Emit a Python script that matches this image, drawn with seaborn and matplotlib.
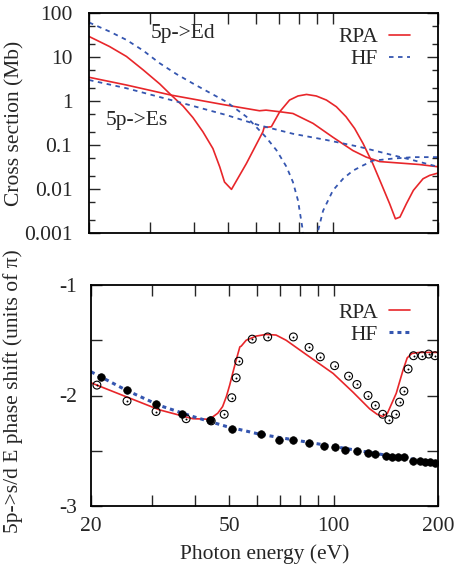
import numpy as np
import pandas as pd
import matplotlib
matplotlib.use("Agg")
import matplotlib.pyplot as plt
import seaborn as sns
from matplotlib.ticker import FixedLocator, NullFormatter, FixedFormatter, NullLocator

sns.set_style("ticks")
plt.rcParams['font.family'] = ['Liberation Serif', 'DejaVu Serif']

RED = '#e8262a'
BLUE = '#3556b0'

# ---------------- Top panel: cross sections ----------------
rpa_d_x = [20, 22.9, 25.6, 28.6, 31.9, 34.4, 37.2, 39.7, 42.4, 45.3, 47.4, 48.9, 51.2, 56.5, 63.0, 63.5, 66.6, 70.4,
           75.1, 79.4, 84.0, 89.6, 95.8, 102.3, 109, 115.4, 122, 130, 137.6, 145.4, 151, 155.6, 162.3, 170, 181.2, 189.3, 200]
rpa_d_y = [29.3, 17.3, 10.3, 5.08, 2.44, 1.36, 0.766, 0.42, 0.2, 0.083, 0.0316, 0.0144, 0.0098, 0.038, 0.2, 0.25, 0.26, 0.57,
           1.05, 1.30, 1.41, 1.30, 1.05, 0.74, 0.44, 0.237, 0.108, 0.038, 0.0131, 0.0046, 0.0021, 0.0023, 0.0046, 0.0093, 0.0171, 0.0204, 0.023]

rpa_s_x = [20, 25.6, 34.4, 49.3, 61.6, 64.3, 70.4, 76.8, 87.7, 100, 114, 124.6, 136.1, 148, 177, 200]
rpa_s_y = [3.46, 2.31, 1.36, 0.81, 0.60, 0.62, 0.57, 0.52, 0.31, 0.15, 0.075, 0.053, 0.042, 0.040, 0.036, 0.032]

hf_d_x = [20, 22.9, 25.6, 28.6, 31.9, 35.6, 39.7, 44.3, 49.5, 56.5, 64.3, 68.9, 73.6, 76.8, 79.4, 81.7, 86.5,
          90.6, 93.7, 100, 106.9, 114, 122, 130, 148, 170, 200]
hf_d_y = [61, 38, 24.5, 14, 7.2, 4.1, 2.5, 1.55, 0.96, 0.44, 0.15, 0.076, 0.032, 0.0144, 0.0055, 0.00134, 0.00001,
          0.0011, 0.0032, 0.0093, 0.0171, 0.026, 0.0344, 0.044, 0.049, 0.053, 0.053]

hf_s_x = [20, 25.6, 34.4, 49.5, 61.6, 76.8, 95.8, 119, 148, 170, 200]
hf_s_y = [3.0, 1.95, 1.05, 0.48, 0.28, 0.18, 0.13, 0.091, 0.059, 0.045, 0.032]

# ---------------- Bottom panel: phase shifts ----------------
rpa_ph_x = [20, 25.2, 31.5, 39.3, 43.9, 46.4, 47.9, 49.1, 50.2, 51.2, 52.4, 53.7, 54.2, 56.0, 59.9, 64, 68.3, 73, 83.5,
            99.7, 113.8, 127, 133.5, 138.6, 143, 151.6, 158.6, 163, 168, 177, 200]
rpa_ph_y = [-1.885, -2.01, -2.13, -2.21, -2.215, -2.16, -2.10, -2.01, -1.906, -1.80, -1.68, -1.56, -1.553, -1.50, -1.462,
            -1.447, -1.453, -1.50, -1.63, -1.80, -1.97, -2.12, -2.17, -2.19, -2.16, -1.98, -1.77, -1.66, -1.62, -1.61, -1.61]

hf_ph_x = [20, 25.2, 31.5, 39.3, 49.1, 61.2, 76.3, 95.2, 118.7, 148, 200]
hf_ph_y = [-1.785, -1.95, -2.09, -2.19, -2.28, -2.35, -2.40, -2.45, -2.50, -2.55, -2.61]

filled_x = [21.4, 25.4, 30.8, 36.6, 44.0, 50.9, 61.6, 69.6, 76.3, 85, 93.8, 101, 107.9, 117, 126, 132, 142, 147.8, 153.8,
            159.8, 169, 177, 183.8, 190, 196]
filled_y = [-1.83, -1.946, -2.08, -2.17, -2.22, -2.30, -2.35, -2.40, -2.40, -2.43, -2.46, -2.47, -2.49, -2.50, -2.52,
            -2.53, -2.55, -2.555, -2.555, -2.555, -2.59, -2.595, -2.60, -2.60, -2.61]

open_x = [20.8, 25.4, 30.8, 37.6, 44.4, 48.4, 50.9, 52.4, 53.3, 58.3, 64.6, 76.6, 85, 91.6, 100.7, 110.5, 116.8, 125.7,
          132, 138.6, 144.4, 150.9, 155, 159.5, 164, 170, 180, 188, 196]
open_y = [-1.906, -2.05, -2.145, -2.21, -2.23, -2.17, -2.02, -1.84, -1.69, -1.49, -1.47, -1.47, -1.565, -1.65, -1.73,
          -1.825, -1.90, -2.00, -2.09, -2.17, -2.22, -2.17, -2.06, -1.96, -1.76, -1.64, -1.64, -1.625, -1.64]

FS = 15.5

fig = plt.figure(figsize=(4.54, 5.76), dpi=100)
ax1 = fig.add_axes([89/454, 1-233/576, (438-89)/454, (233-13)/576])
ax2 = fig.add_axes([91/454, 1-506/576, (438-91)/454, (506-285)/576])

# top panel
sns.lineplot(x=rpa_d_x, y=rpa_d_y, ax=ax1, color=RED, lw=1.2, sort=False, label='RPA')
sns.lineplot(x=rpa_s_x, y=rpa_s_y, ax=ax1, color=RED, lw=1.2, sort=False)
sns.lineplot(x=hf_d_x, y=hf_d_y, ax=ax1, color=BLUE, lw=1.3, sort=False, label='HF')
sns.lineplot(x=hf_s_x, y=hf_s_y, ax=ax1, color=BLUE, lw=1.3, sort=False)
for ln in ax1.get_lines()[2:4]:
    ln.set_dashes([2.5, 2.5])

ax1.set_xscale('log')
ax1.set_yscale('log')
ax1.set_xlim(20, 200)
ax1.set_ylim(0.001, 100)
ax1.text(30.0, 35, '5p->Ed', fontsize=FS, ha='left', va='center')
ax1.text(22.4, 0.36, '5p->Es', fontsize=FS, ha='left', va='center')

# bottom panel
sns.lineplot(x=rpa_ph_x, y=rpa_ph_y, ax=ax2, color=RED, lw=1.2, sort=False, label='RPA')
sns.lineplot(x=hf_ph_x, y=hf_ph_y, ax=ax2, color=BLUE, lw=2.2, sort=False, label='HF')
ax2.get_lines()[1].set_dashes([1.3, 1.3])
sns.scatterplot(x=filled_x, y=filled_y, ax=ax2, color='black', s=30, edgecolor='black', linewidth=0.5, zorder=4)
sns.scatterplot(x=open_x, y=open_y, ax=ax2, facecolor='none', edgecolor='black', s=32, linewidth=0.8, zorder=4)
sns.scatterplot(x=open_x, y=open_y, ax=ax2, color='black', s=2, linewidth=0, zorder=5)
ax2.set_xscale('log')
ax2.set_xlim(20, 200)
ax2.set_ylim(-3, -1)

xt_major = [20, 30, 40, 50, 60, 70, 80, 90, 100, 200]
xt_labels = ['20', '', '', '50', '', '', '', '', '100', '200']
for ax in (ax1, ax2):
    ax.xaxis.set_major_locator(FixedLocator(xt_major))
    ax.xaxis.set_minor_locator(NullLocator())
    ax.tick_params(which='both', direction='in', top=True, right=True, width=1.0, labelsize=FS, pad=10)
    ax.tick_params(which='major', length=8)
    ax.tick_params(which='minor', length=4)
    for sp in ax.spines.values():
        sp.set_linewidth(1.3)
        sp.set_color('black')
    ax.set_xlabel('')

ax1.xaxis.set_major_formatter(NullFormatter())
ax2.xaxis.set_major_formatter(FixedFormatter(xt_labels))
ax1.tick_params(axis='y', pad=12)

yt1 = [0.001, 0.01, 0.1, 1, 10, 100]
ax1.yaxis.set_major_locator(FixedLocator(yt1))
ax1.yaxis.set_major_formatter(FixedFormatter(['0.001', '0.01', '0.1', '1', '10', '100']))
ax1.yaxis.set_minor_locator(FixedLocator([m * 10.0**e for e in range(-3, 2) for m in (2, 5)]))
ax1.yaxis.set_minor_formatter(NullFormatter())

ax2.yaxis.set_major_locator(FixedLocator([-3, -2.5, -2, -1.5, -1]))
ax2.yaxis.set_major_formatter(FixedFormatter(['-3', '', '-2', '', '-1']))
ax2.tick_params(axis='x', pad=8)

ax1.set_ylabel('Cross section (Mb)', fontsize=FS)
ax1.yaxis.set_label_coords(-0.185, 0.5)
ax2.set_ylabel('5p->s/d E phase shift (units of π)', fontsize=FS)
ax2.yaxis.set_label_coords(-0.195, 0.52)
ax2.set_xlabel('Photon energy (eV)', fontsize=FS, labelpad=6)

for ax, yb in ((ax1, 0.975), (ax2, 0.96)):
    leg = ax.legend(loc='upper right', bbox_to_anchor=(0.945, yb), frameon=False, markerfirst=False,
                    fontsize=FS, handlelength=1.0, handletextpad=0.5, labelspacing=0.1, borderaxespad=0)

fig.savefig('out.png', dpi=100)
